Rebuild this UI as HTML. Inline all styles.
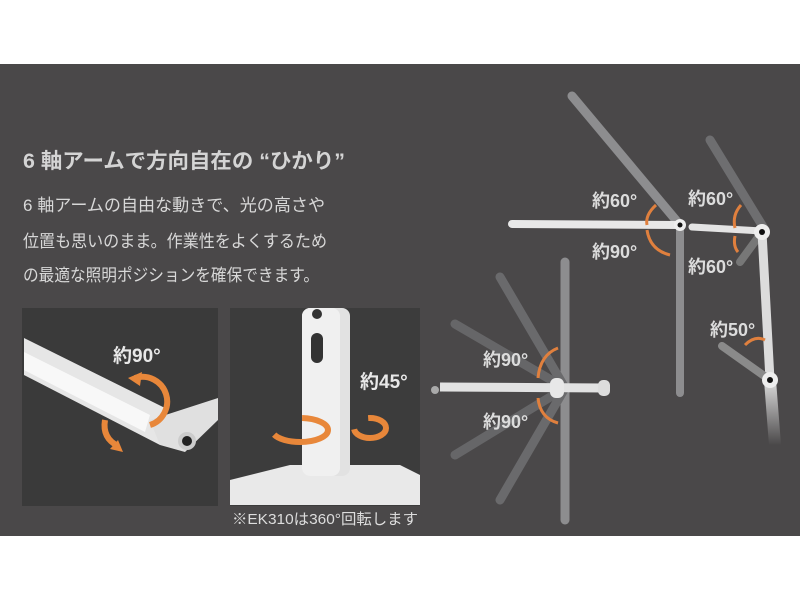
<!DOCTYPE html>
<html><head><meta charset="utf-8"><style>
html,body{margin:0;padding:0;width:800px;height:600px;overflow:hidden;background:#fff}
svg{display:block}
text{font-family:"Liberation Sans","Noto Sans CJK JP",sans-serif}
</style></head><body>
<svg width="800" height="600" viewBox="0 0 800 600" xmlns="http://www.w3.org/2000/svg">
<defs>
<linearGradient id="fade" x1="0" y1="0" x2="0" y2="1"><stop offset="0" stop-color="#ddd"/><stop offset="1" stop-color="#4a4849"/></linearGradient>
</defs>
<rect x="0" y="64" width="800" height="472" fill="#4a4849"/>
<text x="23" y="168" font-size="21" font-weight="bold" fill="#d4d4d4" textLength="322" lengthAdjust="spacingAndGlyphs">6 軸アームで方向自在の “ひかり”</text>
<text x="23" y="211" font-size="17" fill="#d8d8d8" textLength="302" lengthAdjust="spacingAndGlyphs">6 軸アームの自由な動きで、光の高さや</text>
<text x="23" y="247" font-size="17" fill="#d8d8d8" textLength="304" lengthAdjust="spacingAndGlyphs">位置も思いのまま。作業性をよくするため</text>
<text x="23" y="281" font-size="17" fill="#d8d8d8" textLength="296" lengthAdjust="spacingAndGlyphs">の最適な照明ポジションを確保できます。</text>
<!-- panel 1 -->
<rect x="22" y="308" width="196" height="198" fill="#3a3a3a"/>
<polygon points="24,338 165,408 160,445 24,375" fill="#e6e6e6"/>
<polygon points="24,352 150,415 145,432 24,370" fill="#f8f8f8"/>
<polygon points="150,420 218,398 218,420 185,452 160,445" fill="#e0e0e0"/>
<circle cx="187" cy="441" r="9" fill="#ccc"/><circle cx="187" cy="441" r="5" fill="#222"/>
<path d="M150 425 A22 22 0 0 0 135 378" stroke="#e8873a" stroke-width="6" fill="none"/>
<polygon points="128,378 142,372 140,386" fill="#e8873a"/>
<path d="M105 420 Q102 438 118 446" stroke="#e8873a" stroke-width="6" fill="none"/>
<polygon points="123,452 110,449 118,440" fill="#e8873a"/>
<text x="113" y="362" font-size="19" font-weight="bold" fill="#e8e8e8">約90°</text>
<!-- panel 2 -->
<rect x="230" y="308" width="190" height="198" fill="#3c3c3c"/>
<polygon points="230,480 290,465 400,465 420,475 420,505 230,505" fill="#e9e9e9"/>
<rect x="302" y="308" width="48" height="168" rx="8" fill="#e2e2e2"/>
<rect x="302" y="308" width="38" height="168" rx="8" fill="#f0f0f0"/>
<circle cx="317" cy="314" r="5" fill="#333"/>
<rect x="311" y="333" width="12" height="30" rx="6" fill="#333"/>
<ellipse cx="300" cy="430" rx="28" ry="12" stroke="#e8873a" stroke-width="6" fill="none" stroke-dasharray="60 40"/>
<ellipse cx="370" cy="428" rx="16" ry="10" stroke="#e8873a" stroke-width="6" fill="none" stroke-dasharray="40 20"/>
<text x="360" y="388" font-size="19" font-weight="bold" fill="#e8e8e8">約45°</text>
<circle cx="435" cy="390" r="4" fill="#aaa"/>
<text x="232" y="524" font-size="15" fill="#dddddd" textLength="186" lengthAdjust="spacingAndGlyphs">※EK310は360°回転します</text>
<!-- right diagram -->
<g stroke-linecap="round">
<line x1="572" y1="96" x2="680" y2="225" stroke="#8d8d8f" stroke-width="9"/>
<line x1="680" y1="225" x2="680" y2="393" stroke="#8d8d8f" stroke-width="8"/>
<line x1="512" y1="224" x2="680" y2="225" stroke="#e8e8e8" stroke-width="8"/>
<line x1="710" y1="140" x2="765" y2="230" stroke="#6e6e70" stroke-width="9"/>
<line x1="740" y1="262" x2="762" y2="232" stroke="#777" stroke-width="8"/>
<line x1="692" y1="227" x2="762" y2="231" stroke="#e4e4e4" stroke-width="7"/>
<line x1="762" y1="232" x2="770" y2="380" stroke="#dcdcdc" stroke-width="9"/>
<line x1="722" y1="346" x2="770" y2="380" stroke="#8a8a8a" stroke-width="8"/>
<line x1="770" y1="380" x2="775" y2="445" stroke="url(#fade)" stroke-width="12" stroke-linecap="butt"/>
<line x1="565" y1="262" x2="565" y2="520" stroke="#8d8d8f" stroke-width="9"/>
<line x1="565" y1="388" x2="500" y2="277" stroke="#6a6a6c" stroke-width="9"/>
<line x1="565" y1="388" x2="455" y2="324" stroke="#666668" stroke-width="9"/>
<line x1="565" y1="388" x2="455" y2="455" stroke="#666668" stroke-width="9"/>
<line x1="565" y1="388" x2="500" y2="500" stroke="#6a6a6c" stroke-width="9"/>
<line x1="440" y1="387" x2="606" y2="388" stroke="#e2e2e2" stroke-width="9" stroke-linecap="butt"/>
</g>
<rect x="598" y="380" width="12" height="16" rx="5" fill="#ddd"/>
<rect x="550" y="378" width="14" height="20" rx="6" fill="#e8e8e8"/>
<circle cx="680" cy="225" r="6" fill="#eee"/><circle cx="680" cy="225" r="2.5" fill="#111"/>
<circle cx="762" cy="232" r="8" fill="#eee"/><circle cx="762" cy="232" r="3" fill="#111"/>
<circle cx="770" cy="380" r="8" fill="#eee"/><circle cx="770" cy="380" r="3" fill="#111"/>
<g stroke="#e0803e" stroke-width="3" fill="none">
<path d="M656 205 Q645 215 647 225"/><path d="M647 230 Q650 250 670 255"/>
<path d="M741 205 Q732 215 735 228"/><path d="M735 236 Q733 246 738 252"/>
<path d="M745 345 Q755 335 765 340"/>
<path d="M558 348 Q540 355 538 378"/><path d="M538 398 Q540 418 558 423"/>
</g>
<g font-size="18" font-weight="bold" fill="#dcdcdc">
<text x="592" y="207">約60°</text>
<text x="592" y="258">約90°</text>
<text x="688" y="205">約60°</text>
<text x="688" y="273">約60°</text>
<text x="710" y="336">約50°</text>
<text x="483" y="366">約90°</text>
<text x="483" y="428">約90°</text>
</g>
</svg>
</body></html>
